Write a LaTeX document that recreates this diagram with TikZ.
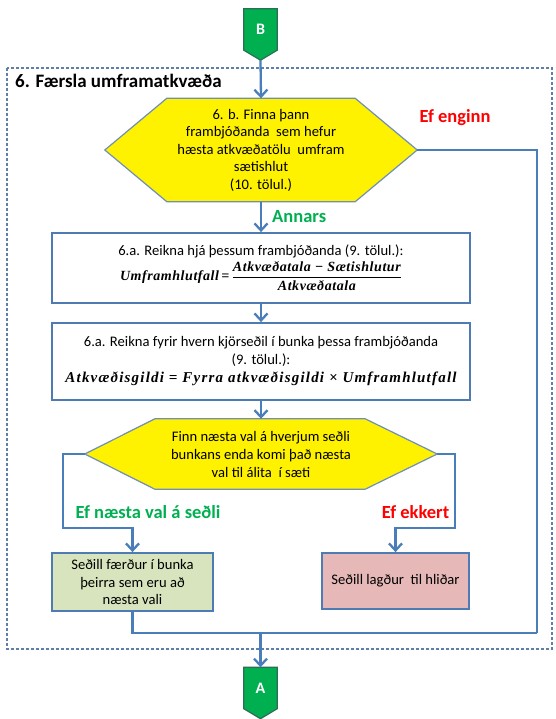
\documentclass[tikz,border=0pt]{standalone}
\usepackage{fontspec}
\setmainfont{Carlito}
\newfontfamily\formfont{Liberation Serif}
\usetikzlibrary{arrows.meta,backgrounds,calc}
\definecolor{lineblue}{HTML}{4A7EBB}
\definecolor{edgeblue}{HTML}{4F7BB5}
\definecolor{hexedge}{HTML}{6F8FB8}
\definecolor{dashc}{HTML}{5F7FAA}
\definecolor{okgreen}{HTML}{00B050}
\definecolor{pentedge}{HTML}{2A6F55}
\definecolor{lgreen}{HTML}{D7E4BD}
\definecolor{lpink}{HTML}{E6B9B8}
\newcommand{\formb}{\formfont\bfseries\itshape}
\tikzset{
  x=1pt, y=-1pt,
  linepath/.style={draw=lineblue, line width=2.3pt, line join=miter},
  conn/.style={linepath, -{Straight Barb[length=7pt,width=13pt,line width=2.3pt]}},
  bodytext/.style={font=\fontsize{14.6}{17.5}\selectfont, align=center, inner sep=0pt},
  hexnode/.style={bodytext, text=black},
  hexshape/.style={fill=yellow, draw=hexedge, line width=1.2pt},
  procbox/.style={bodytext, draw=edgeblue, line width=1.8pt, fill=white},
  pentnode/.style={inner sep=0pt, minimum width=33pt, minimum height=41pt, text=white, font=\bfseries\fontsize{16}{18}\selectfont},
  pentshape/.style={fill=okgreen, draw=pentedge, line width=1.2pt},
  redlabel/.style={text=red, font=\bfseries\fontsize{18.5}{21}\selectfont, inner sep=0pt},
  greenlabel/.style={text=okgreen, font=\bfseries\fontsize{18.5}{21}\selectfont, inner sep=0pt},
}
\begin{document}
\begin{tikzpicture}
\useasboundingbox (0,0) rectangle (555,719);

% dashed frame
\draw[draw=dashc, line width=1.2pt, dash pattern=on 3pt off 2pt] (7,68) rectangle (552,649);
\node[anchor=base west, font=\bfseries\fontsize{19}{21}\selectfont, inner sep=0pt] (title) at (15,88) {6. Færsla umframatkvæða};

% connectors B
\node[pentnode] (B) at (260.5,29.5) {B};
\coordinate (Btip) at ($(B.south)+(0,10)$);
\begin{scope}[on background layer]
\draw[pentshape] (B.north west) -- (B.north east) -- (B.south east) -- (Btip) -- (B.south west) -- cycle;
\end{scope}

% hexagon 1
\node[hexnode, minimum width=312pt, minimum height=103pt] (h1) at (261,150)
  {6. b. Finna þann\\frambjóðanda\ \ sem hefur\\hæsta atkvæðatölu\ \ umfram\\sætishlut\\(10. tölul.)};
\begin{scope}[on background layer]
\draw[hexshape] (h1.west) -- ($(h1.north west)+(62,0)$) -- ($(h1.north east)+(-62,0)$) -- (h1.east)
  -- ($(h1.south east)+(-62,0)$) -- ($(h1.south west)+(62,0)$) -- cycle;
\end{scope}
\node[redlabel] (efenginn) at (455,118) {Ef enginn};

% box 2
\node[procbox, minimum width=418pt, minimum height=70pt] (b2) at (261,268)
  {6.a. Reikna hjá þessum frambjóðanda (9. tölul.):\\[2pt]
   {\fontsize{14}{16}\selectfont\formb\addfontfeature{LetterSpace=4}Umframhlutfall\,=\,}$\displaystyle\frac{\hbox{\fontsize{14}{16}\selectfont\formb\addfontfeature{LetterSpace=4}Atkvæðatala − Sætishlutur}}{\hbox{\fontsize{14}{16}\selectfont\formb\addfontfeature{LetterSpace=4}Atkvæðatala}}$};
\node[greenlabel, anchor=west] (annars) at (272,217) {Annars};

% box 3
\node[procbox, minimum width=418pt, minimum height=77pt] (b3) at (261,361.5)
  {6.a. Reikna fyrir hvern kjörseðil í bunka þessa frambjóðanda\\(9. tölul.):\\[1pt]
   {\fontsize{15}{17}\selectfont\formb\addfontfeature{LetterSpace=8}Atkvæðisgildi = Fyrra atkvæðisgildi × Umframhlutfall}};

% hexagon 2
\node[hexnode, minimum width=352pt, minimum height=70pt, font=\fontsize{14.6}{18}\selectfont] (h2) at (261,454)
  {Finn næsta val á hverjum seðli\\bunkans enda komi það næsta\\val til álita\ \ í sæti};
\begin{scope}[on background layer]
\draw[hexshape] (h2.west) -- ($(h2.north west)+(70,0)$) -- ($(h2.north east)+(-72,0)$) -- (h2.east)
  -- ($(h2.south east)+(-72,0)$) -- ($(h2.south west)+(70,0)$) -- cycle;
\end{scope}
\node[greenlabel] (efnaesta) at (148,512) {Ef næsta val á seðli};
\node[redlabel] (efekkert) at (415.5,512) {Ef ekkert};

% result boxes
\node[procbox, fill=lgreen, minimum width=161pt, minimum height=58pt] (green) at (132.5,582)
  {Seðill færður\ í bunka\\þeirra sem eru að\\næsta vali};
\node[procbox, fill=lpink, minimum width=147pt, minimum height=56pt] (pink) at (395.5,581)
  {Seðill lagður\ \ til hliðar};

% connector A
\node[pentnode] (A) at (260.5,688) {A};
\coordinate (Atip) at ($(A.south)+(0,10)$);
\begin{scope}[on background layer]
\draw[pentshape] (A.north west) -- (A.north east) -- (A.south east) -- (Atip) -- (A.south west) -- cycle;
\end{scope}

% routing coordinates
\coordinate (lb) at (63,528);
\coordinate (rb) at (455,528);
\coordinate (jr) at (537,633);
\coordinate (jm) at (260.5,633);

% connectors
\draw[conn] (Btip) -- (h1.north);
\draw[conn] (h1.south) -- (b2.north);
\draw[conn] (b2.south) -- (b3.north);
\draw[conn] (b3.south) -- (h2.north);
\draw[conn] (h2.west) -| (lb) -| (green.north);
\draw[conn] (h2.east) -| (rb) -| (pink.north);
\draw[linepath] (h1.east) -| (jr);
\draw[linepath] (green.south) |- (jr);
\draw[conn] (jm) -- (A.north);
\end{tikzpicture}
\end{document}
